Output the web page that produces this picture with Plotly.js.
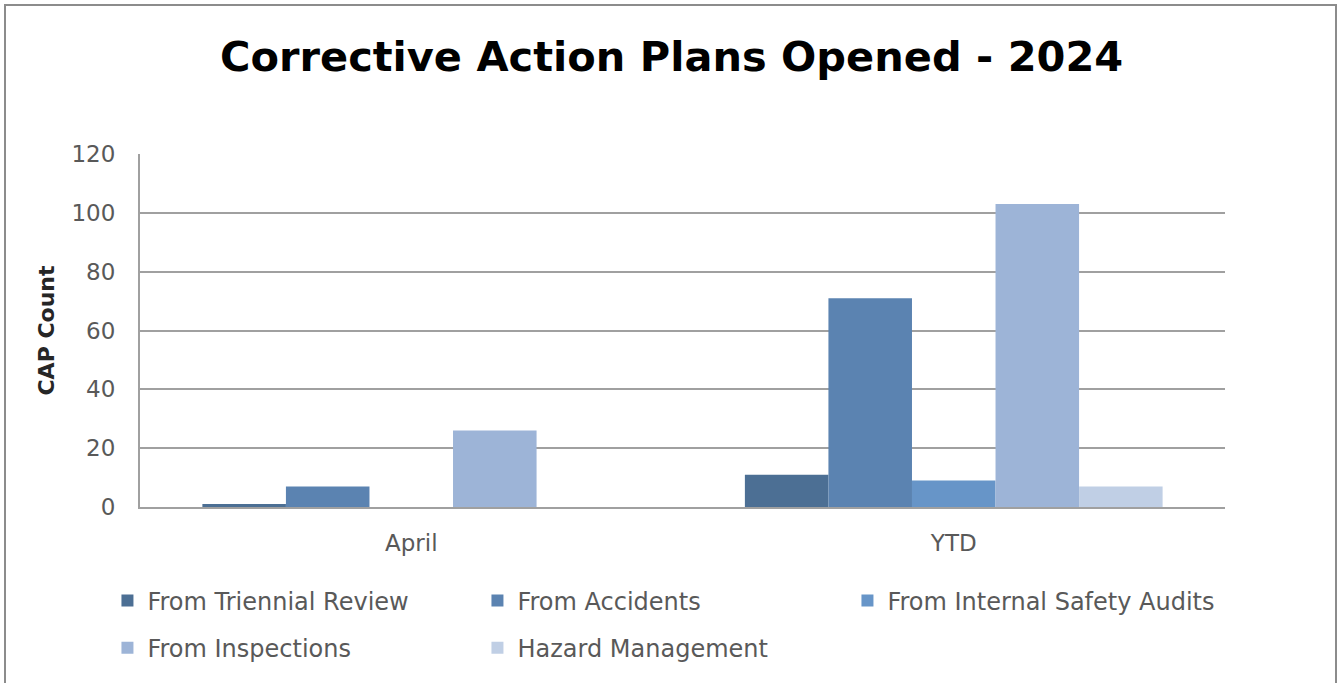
<!DOCTYPE html>
<html>
<head>
<meta charset="utf-8">
<script src="https://cdn.plot.ly/plotly-3.0.1.min.js"></script>
<style>
  html, body { margin: 0; padding: 0; background: #fff; overflow: hidden; }
  #chart { width: 1338px; height: 683px; }
  #frame { position: absolute; left: 4px; top: 4px; width: 1329px; height: 700px; border: 2px solid #8c8c8c; pointer-events: none; }
</style>
</head>
<body>
<div id="chart"></div>
<div id="frame"></div>
<script>
const categories = ["April", "YTD"];
const seriesNames = ["From Triennial Review", "From Accidents", "From Internal Safety Audits", "From Inspections", "Hazard Management"];
const triennialReview = [1, 11];
const accidents = [7, 71];
const internalSafetyAudits = [0, 9];
const inspections = [26, 103];
const hazardManagement = [0, 7];
const yTicks = [0, 20, 40, 60, 80, 100, 120];

const values = [triennialReview, accidents, internalSafetyAudits, inspections, hazardManagement];
const colors = ["#4C6F94", "#5B83B1", "#6795C8", "#9DB4D7", "#C0CFE5"];
const legends = ["legend", "legend", "legend", "legend2", "legend2"];

const font = "DejaVu Sans, Verdana, sans-serif";

const traces = values.map((v, i) => ({
  type: "bar",
  name: seriesNames[i],
  x: categories,
  y: v,
  marker: { color: colors[i], line: { width: 0 } },
  legend: legends[i],
  hoverinfo: "x+y+name"
}));

const legendBase = {
  orientation: "h",
  x: -0.03, xanchor: "left",
  yanchor: "middle",
  entrywidth: 325, entrywidthmode: "pixels",
  font: { family: font, size: 24, color: "#595959" },
  bgcolor: "rgba(0,0,0,0)",
  traceorder: "normal"
};

const layout = {
  width: 1338,
  height: 683,
  margin: { l: 140, r: 113, t: 154, b: 176 },
  paper_bgcolor: "#ffffff",
  plot_bgcolor: "#ffffff",
  barmode: "group",
  bargap: 0.23,
  bargroupgap: 0,
  title: {
    text: "<b>Corrective Action Plans Opened - 2024</b>",
    font: { family: font, size: 41.5, color: "#000000" },
    x: 0.502, xanchor: "center", xref: "container",
    y: 0.917, yanchor: "middle", yref: "container"
  },
  xaxis: {
    type: "category",
    showgrid: false,
    showline: true,
    linecolor: "#a0a0a0",
    linewidth: 2,
    ticks: "",
    tickfont: { family: font, size: 23, color: "#595959" },
    ticklabelstandoff: 14
  },
  yaxis: {
    range: [0, 120],
    tickvals: yTicks,
    ticktext: yTicks.map(String),
    showgrid: true,
    gridcolor: "#a0a0a0",
    gridwidth: 2,
    zeroline: false,
    showline: true,
    linecolor: "#a0a0a0",
    linewidth: 2,
    ticks: "",
    tickfont: { family: font, size: 23, color: "#595959" },
    ticklabelstandoff: 18,
    title: {
      text: "<b>CAP Count</b>",
      font: { family: font, size: 22, color: "#262626" },
      standoff: 11
    }
  },
  legend: Object.assign({}, legendBase, { y: -0.266 }),
  legend2: Object.assign({}, legendBase, { y: -0.40 }),
  showlegend: true
};

Plotly.newPlot("chart", traces, layout, { displayModeBar: false });
</script>
</body>
</html>
